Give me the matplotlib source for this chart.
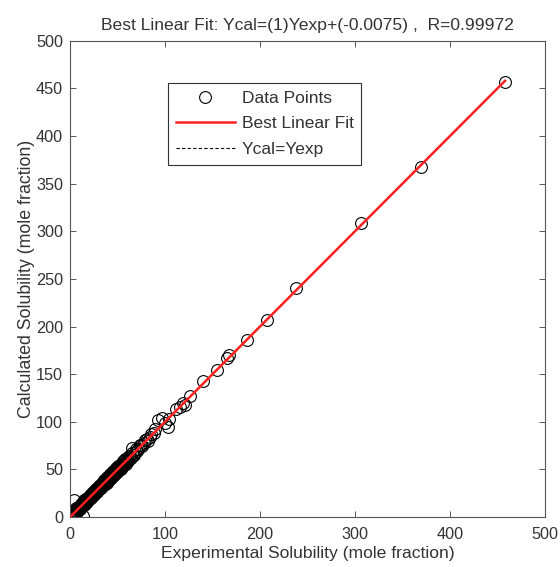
import matplotlib
matplotlib.use("Agg")
import matplotlib.pyplot as plt
import numpy as np

plt.rcParams['font.family'] = ['Liberation Sans', 'DejaVu Sans']

# Experimental vs calculated solubility (mole fraction)
exp_a = [0.3, 0.9, 1.6, 2.2, 3.0, 3.6, 4.3, 5.1, 5.8, 6.4, 7.2, 7.9, 8.6, 9.3, 10.1, 10.8,
         11.5, 12.3, 13.0, 13.8, 14.5, 15.2, 16.0, 16.7, 17.5, 18.2, 19.0, 19.7, 20.5, 21.2,
         22.0, 22.7, 23.5, 24.2, 25.0, 25.8, 26.5, 27.3, 28.0, 28.8, 29.5, 30.3, 31.0, 31.8,
         32.5, 33.3, 34.0, 34.8, 35.5, 36.3, 37.0, 37.8, 38.5, 39.3, 40.0, 40.8, 41.6, 42.4,
         43.2, 44.0, 44.8, 45.6, 46.4, 47.2, 48.0, 48.9, 49.8, 50.7, 51.6, 52.5, 53.4, 54.3,
         55.2, 56.1, 57.0, 58.0, 59.0, 60.0, 61.2, 62.5, 64.0, 65.5, 67.0, 69.0, 71.0, 73.5,
         76.0, 79.0, 82.0, 85.0]
cal_a = [1.5, 0.2, 3.7, 0.7, 3.6, 6.0, 2.4, 6.2, 5.4, 9.2, 5.0, 8.8, 10.3, 8.2, 10.4, 8.2,
         13.4, 12.8, 11.6, 16.0, 13.1, 17.6, 14.2, 18.9, 16.3, 20.4, 17.5, 21.0, 19.2, 23.5,
         20.1, 24.8, 22.2, 26.1, 23.4, 28.0, 25.3, 29.4, 26.2, 31.0, 28.1, 32.2, 29.0, 34.1,
         30.6, 35.7, 32.3, 37.2, 33.4, 38.6, 35.2, 40.5, 36.1, 41.8, 38.3, 43.0, 39.5, 44.9,
         41.0, 46.6, 42.7, 48.1, 44.2, 49.6, 45.8, 51.3, 47.5, 53.2, 49.0, 55.1, 50.8, 56.4,
         52.6, 58.5, 54.3, 60.8, 56.2, 62.4, 58.9, 64.6, 61.8, 67.3, 65.0, 71.2, 69.5, 75.6,
         74.4, 81.3, 80.1, 87.2]

exp_b = [1.0, 2.6, 4.0, 5.5, 7.0, 8.3, 9.8, 11.0, 12.6, 14.0, 15.5, 17.0, 18.6, 20.0, 21.6,
         23.0, 24.6, 26.0, 27.7, 29.0, 30.6, 32.0, 33.7, 35.0, 36.6, 38.0, 39.6, 41.0, 42.7,
         44.3, 46.0, 47.6, 49.3, 51.0, 52.8, 54.6, 56.5, 58.5, 60.5, 63.0, 66.0, 68.0, 72.0,
         75.0, 78.0, 81.0, 84.0, 88.0]
cal_b = [1.1, 2.5, 4.2, 5.3, 7.1, 8.2, 9.9, 11.2, 12.4, 14.1, 15.6, 16.8, 18.7, 20.2, 21.4,
         23.2, 24.5, 26.1, 27.5, 29.3, 30.4, 32.2, 33.5, 35.1, 36.8, 37.9, 39.8, 41.1, 42.5,
         44.5, 45.8, 47.8, 49.1, 51.2, 52.6, 54.9, 56.3, 58.7, 60.3, 63.4, 65.7, 68.5, 71.6,
         75.3, 77.6, 81.5, 83.6, 88.4]

exp_c = [4.5, 14.0, 0.5, 65.0, 90.0, 93.0, 97.0, 100.0, 103.0, 104.0, 112.0, 116.0, 119.0,
         121.0, 126.0, 140.0, 155.0, 165.0, 167.0, 186.0, 207.0, 238.0, 306.0, 370.0, 458.0]
cal_c = [18.0, 1.5, 0.0, 73.0, 93.0, 102.0, 104.0, 99.0, 95.0, 103.0, 113.0, 116.0, 120.0,
         118.0, 127.0, 143.0, 154.0, 167.0, 170.0, 186.0, 207.0, 240.0, 309.0, 368.0, 457.0]

slope = 1.0
intercept = -0.0075
R = 0.99972

x_all = np.array(exp_a + exp_b + exp_c)
y_all = np.array(cal_a + cal_b + cal_c)

TXT = '#333333'

fig = plt.figure(figsize=(5.6, 5.67), dpi=100)
ax = fig.add_axes([0.125, 0.088, 0.848, 0.84])

ax.plot(x_all, y_all, linestyle='none', marker='o', markersize=8.5,
        markerfacecolor='none', markeredgecolor='black', markeredgewidth=0.8,
        label='Data Points', zorder=2)
xl = np.array([x_all.min(), x_all.max()])
ax.plot(xl, slope * xl + intercept, color='#ff2020', linewidth=1.8,
        label='Best Linear Fit', zorder=4)
ax.plot(xl, xl, color='black', linestyle=(0, (3, 2)), linewidth=0.8,
        label='Ycal=Yexp', zorder=3)

ax.set_xlim(0, 500)
ax.set_ylim(0, 500)
ticks = [0, 50, 100, 150, 200, 250, 300, 350, 400, 450, 500]
ax.set_xticks(ticks[::2])
ax.set_yticks(ticks)
ax.tick_params(direction='in', top=True, right=True, length=4, width=0.7,
               labelsize=11.7, colors='#555555', labelcolor=TXT)
ax.tick_params(axis='x', pad=7)
ax.tick_params(axis='y', pad=5)
for s in ax.spines.values():
    s.set_color('#555555')
    s.set_linewidth(0.8)

ax.set_xlabel('Experimental Solubility (mole fraction)', fontsize=12.6, color=TXT, labelpad=3)
ax.set_ylabel('Calculated Solubility (mole fraction)', fontsize=12.8, color=TXT, labelpad=1)
ax.set_title('Best Linear Fit: Ycal=(%g)Yexp+(%g) ,  R=%g' % (slope, intercept, R),
             fontsize=12.6, color=TXT, pad=8)

leg = ax.legend(loc='upper left', bbox_to_anchor=(0.206, 0.912), borderaxespad=0,
                fontsize=12.5, frameon=True, fancybox=False, edgecolor='#333333',
                framealpha=1, handlelength=3.4, borderpad=0.45, labelspacing=0.6,
                handletextpad=0.4)
leg.get_frame().set_linewidth(0.8)
for t in leg.get_texts():
    t.set_color(TXT)

fig.savefig('out.png', dpi=100)
